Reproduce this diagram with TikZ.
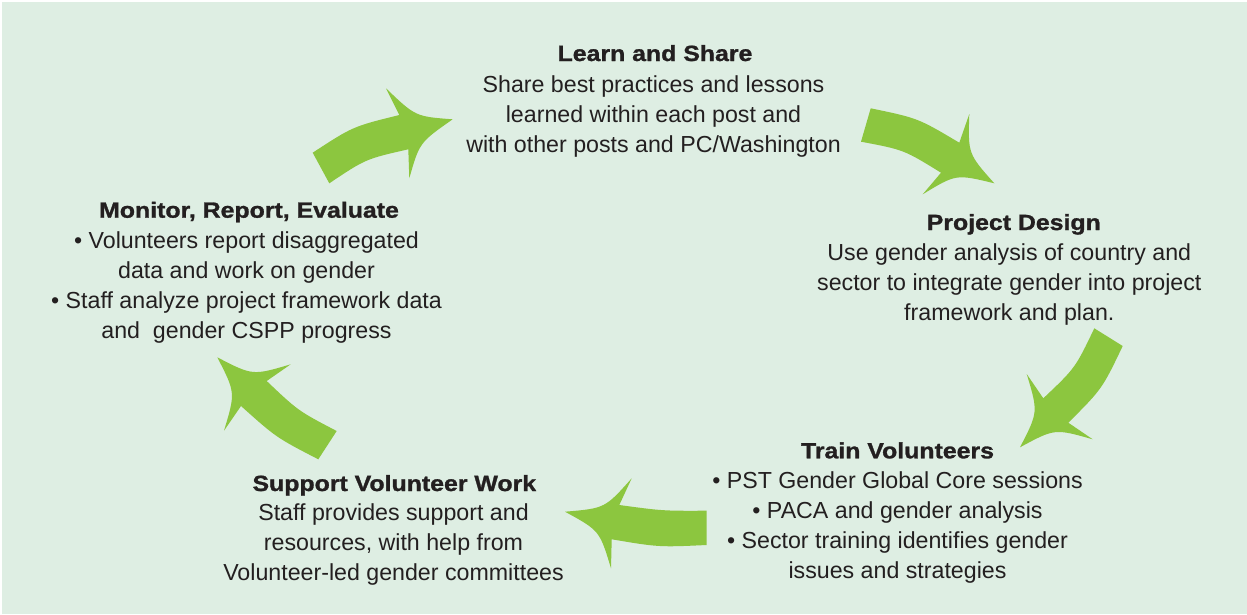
\documentclass[tikz,border=0pt]{standalone}
\usepackage{fontspec}
\setmainfont{Liberation Sans}
\newfontfamily\titlefont{Liberation Sans Bold}[FakeStretch=1.13, FakeBold=1.2]
\definecolor{bgc}{HTML}{DEEEE3}
\definecolor{arrc}{HTML}{8CC63F}
\definecolor{txtc}{HTML}{231F20}
\tikzset{
  bodytext/.style={anchor=north, inner sep=0pt, align=center, text=txtc,
    font=\fontsize{23.2}{30}\selectfont},
  titletext/.style={anchor=base, inner sep=0pt, text=txtc,
    font=\titlefont\fontsize{22}{26}\selectfont},
  cyclearrow/.style={fill=arrc, draw=none}
}
\begin{document}
\begin{tikzpicture}[x=1pt,y=-1pt]
\useasboundingbox (0,0) rectangle (1247,614);
\fill[bgc] (1.5,1.5) rectangle (1247,614);

% arrow 1: Monitor -> Learn
\fill[cyclearrow] (312.7,152.7) .. controls (352.8,126.5) .. (399.3,115)
  -- (386,88.3) .. controls (415.4,116.5) .. (452.7,119.3)
  .. controls (419.5,142.5) .. (409.3,178.3) -- (408.3,149.3)
  .. controls (365.6,159) .. (329.3,183.3) -- cycle;
% arrow 2: Learn -> Project Design
\fill[cyclearrow] (870.7,108.3) .. controls (917.9,118.1) .. (959.3,142.7)
  -- (969.3,114) .. controls (968.0,153.8) .. (994.3,183.3)
  .. controls (956.0,174.0) .. (922.7,194.3) -- (941,172.7)
  .. controls (903.9,149.8) .. (861,141.7) -- cycle;
% arrow 3: Project Design -> Train
\fill[cyclearrow] (1122.7,346) .. controls (1102.1,389.0) .. (1068.3,422.7)
  -- (1092.7,439.3) .. controls (1054.7,428.5) .. (1020,447.3)
  .. controls (1038.2,412.1) .. (1026.7,374) -- (1043.3,398.3)
  .. controls (1075.3,368.0) .. (1094.3,328.3) -- cycle;
% arrow 4: Train -> Support
\fill[cyclearrow] (706.7,545) .. controls (658.7,547.2) .. (611.7,539.3)
  -- (611,568.3) .. controls (599.6,530.6) .. (565,511.7)
  .. controls (605.0,508.3) .. (631.7,478.3) -- (619.3,505)
  .. controls (662.7,510.9) .. (706.7,510.7) -- cycle;
% arrow 5: Support -> Monitor
\fill[cyclearrow] (318.3,459.3) .. controls (276.3,437.6) .. (241,406)
  -- (224,430.7) .. controls (235.5,392.6) .. (217.3,357.3)
  .. controls (252.6,375.6) .. (290.7,364.3) -- (266.7,381)
  .. controls (298.2,410.9) .. (336.7,431) -- cycle;

% Learn and Share
\node[titletext] (learnT) at (655,61) {Learn and Share};
\node[bodytext] (learnB) at (653.5,75.1) {Share best practices and lessons\\learned within each post and\\with other posts and PC/Washington};

% Project Design
\node[titletext] (designT) at (1013.8,230) {Project Design};
\node[bodytext] (designB) at (1009.3,243.4) {Use gender analysis of country and\\sector to integrate gender into project\\framework and plan.};

% Train Volunteers
\node[titletext] (trainT) at (897.5,458.3) {Train Volunteers};
\node[bodytext] (trainB) at (897.5,471.7) {\textbullet\ PST Gender Global Core sessions\\\textbullet\ PACA and gender analysis\\\textbullet\ Sector training identifies gender\\issues and strategies};

% Support Volunteer Work
\node[titletext] (supportT) at (394.3,491) {Support Volunteer Work};
\node[bodytext] (supportB) at (393.5,503.4) {Staff provides support and\\resources, with help from\\Volunteer-led gender committees};

% Monitor, Report, Evaluate
\node[titletext] (monitorT) at (249,217.7) {Monitor, Report, Evaluate};
\node[bodytext] (monitorB) at (246.5,231.7) {\textbullet\ Volunteers report disaggregated\\data and work on gender\\\textbullet\ Staff analyze project framework data\\and\ \ gender CSPP progress};
\end{tikzpicture}
\end{document}
